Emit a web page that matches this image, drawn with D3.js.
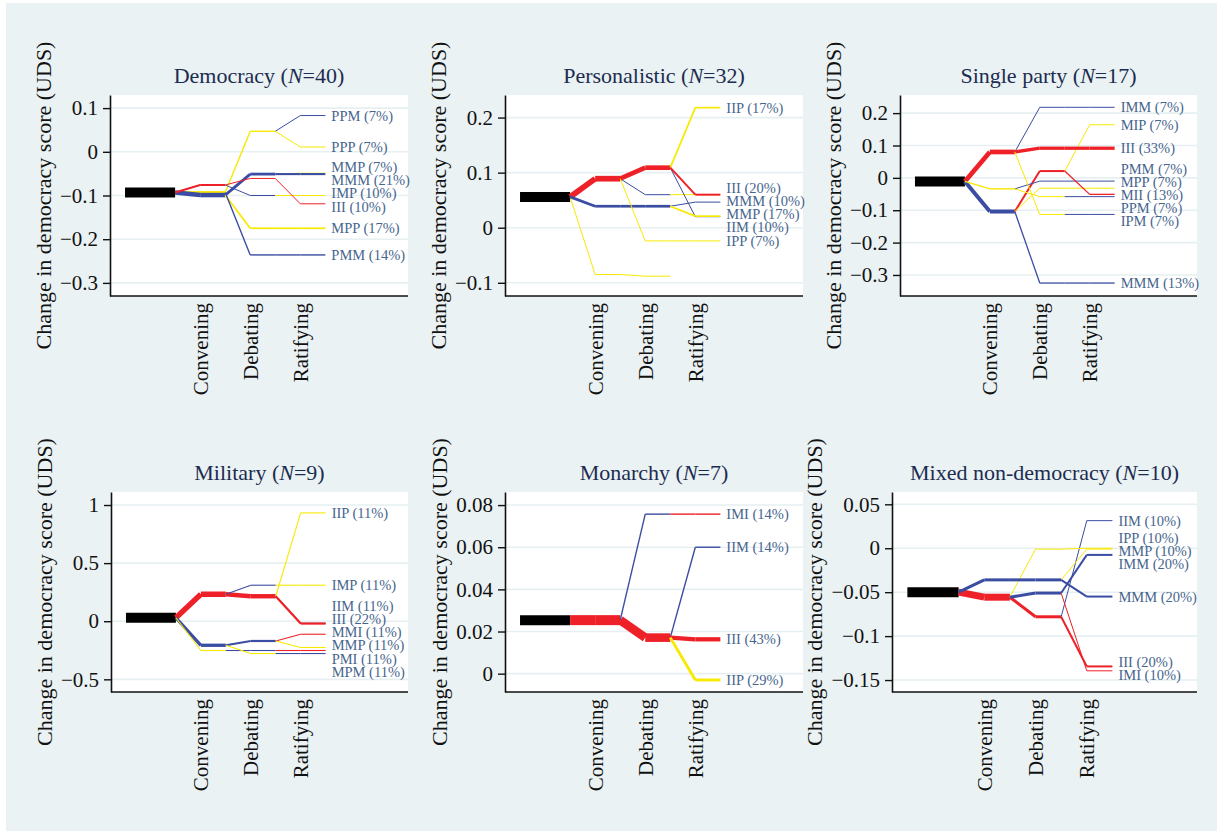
<!DOCTYPE html>
<html><head><meta charset="utf-8">
<script src="https://cdn.jsdelivr.net/npm/d3@7"></script>
<style>
body{margin:0;background:#fff;}
svg{display:block;}
text{font-family:"Liberation Serif","Times New Roman",serif;}
</style>
</head><body>
<svg id="c" width="1223" height="831"></svg>
<script>
// ---------- data ----------
const stageLabels = ["Convening", "Debating", "Ratifying"];
const titles = ["Democracy", "Personalistic", "Single party", "Military", "Monarchy", "Mixed non-democracy"];
const sampleSizes = [40, 32, 17, 9, 7, 10];
const yTickValues = [
  [0.1, 0, -0.1, -0.2, -0.3],
  [0.2, 0.1, 0, -0.1],
  [0.2, 0.1, 0, -0.1, -0.2, -0.3],
  [1, 0.5, 0, -0.5],
  [0.08, 0.06, 0.04, 0.02, 0],
  [0.05, 0, -0.05, -0.1, -0.15]
];
const yDomains = [[-0.33, 0.13], [-0.124, 0.241], [-0.365, 0.256], [-0.609, 1.112], [-0.0087, 0.0862], [-0.1636, 0.064]];
const startValues = [-0.093, 0.056, -0.011, 0.030, 0.0254, -0.050];

// node values (mean change) for Convening (1 letter) and Debating (2 letters) prefixes
const democracyStages = {I: -0.076, M: -0.099, P: -0.093, PP: 0.047, MM: -0.051, IM: -0.100, II: -0.061, MP: -0.175, PM: -0.236};
const personalisticStages = {I: 0.089, M: 0.039, P: -0.085, II: 0.109, IM: 0.060, IP: -0.024, MM: 0.039, PP: -0.088};
const singlePartyStages = {I: 0.080, M: -0.104, P: -0.034, II: 0.0916, IM: 0.218, IP: -0.113, PM: -0.010, PP: -0.058, MP: -0.032, MI: 0.021, MM: -0.325};
const militaryStages = {I: 0.232, M: -0.207, P: -0.252, II: 0.215, IM: 0.310, MM: -0.170, PM: -0.252, MP: -0.278};
const monarchyStages = {I: 0.0254, II: 0.0171, IM: 0.0757};
const mixedStages = {M: -0.036, I: -0.0557, MM: -0.036, IM: -0.051, II: -0.078, IP: -0.001};

// labelled sequences: [sequence, percent, ratifying value]
const democracyPaths = [["PPM", 7, 0.083], ["PPP", 7, 0.011], ["MMP", 7, -0.049], ["MMM", 21, -0.051], ["IMP", 10, -0.100], ["III", 10, -0.119], ["MPP", 17, -0.175], ["PMM", 14, -0.236]];
const personalisticPaths = [["IIP", 17, 0.218], ["IIM", 10, 0.020], ["III", 20, 0.060], ["MMM", 10, 0.0465], ["MMP", 17, 0.021], ["IPP", 7, -0.024]];
const singlePartyPaths = [["IMM", 7, 0.218], ["MIP", 7, 0.164], ["III", 33, 0.0916], ["PMM", 7, -0.010], ["MPP", 7, -0.032], ["MII", 13, -0.051], ["PPM", 7, -0.058], ["IPM", 7, -0.113], ["MMM", 13, -0.325]];
const militaryPaths = [["IIP", 11, 0.932], ["IMP", 11, 0.310], ["IIM", 11, -0.018], ["III", 22, -0.020], ["MMI", 11, -0.112], ["MMP", 11, -0.226], ["PMI", 11, -0.252], ["MPM", 11, -0.278]];
const monarchyPaths = [["IMI", 14, 0.0757], ["IIM", 14, 0.060], ["III", 43, 0.0163], ["IIP", 29, -0.003]];
const mixedPaths = [["IIM", 10, 0.0314], ["IPP", 10, 0.000], ["MMP", 10, -0.001], ["IMM", 20, -0.0076], ["MMM", 20, -0.055], ["IMI", 10, -0.1395], ["III", 20, -0.1345]];

// unlabelled sequences (small groups)
const personalisticUnlabelled = [["IMP", 3, 0.060], ["PP", 3, null]];

// ---------- layout ----------
const svg = d3.select("#c");
svg.append("rect").attr("x", 6).attr("y", 3).attr("width", 1211).attr("height", 828).attr("fill", "#eaf2f3");

const panels = [
  {stages: democracyStages, paths: democracyPaths, hidden: []},
  {stages: personalisticStages, paths: personalisticPaths, hidden: personalisticUnlabelled},
  {stages: singlePartyStages, paths: singlePartyPaths, hidden: []},
  {stages: militaryStages, paths: militaryPaths, hidden: []},
  {stages: monarchyStages, paths: monarchyPaths, hidden: []},
  {stages: mixedStages, paths: mixedPaths, hidden: []}
];
const rects = [
  {l: 110, r: 408, t: 95, b: 296}, {l: 505, r: 803, t: 95, b: 296}, {l: 900, r: 1197, t: 95, b: 296},
  {l: 111, r: 408, t: 492, b: 692}, {l: 505, r: 803, t: 492, b: 692}, {l: 892, r: 1197, t: 492, b: 692}
];
const colorOf = {M: "#3b4da2", I: "#ee2128", P: "#f8e900"};
const fmt = v => v === 0 ? "0" : String(v).replace("-", "\u2212");

function relax(items, gap) {
  items.sort((a, b) => a.ty - b.ty);
  items.forEach(d => d.ly = d.ty);
  for (let it = 0; it < 400; it++) {
    let moved = false;
    for (let j = 0; j < items.length - 1; j++) {
      const a = items[j], b = items[j + 1];
      const d = b.ly - a.ly;
      if (d < gap - 0.01) { const s = (gap - d) / 2; a.ly -= s; b.ly += s; moved = true; }
    }
    if (!moved) break;
  }
}

panels.forEach((p, i) => {
  const R = rects[i];
  const g = svg.append("g");
  g.append("rect").attr("x", R.l).attr("y", R.t).attr("width", R.r - R.l).attr("height", R.b - R.t).attr("fill", "#fff");
  const x = d3.scaleLinear().domain([-0.6, 11.3]).range([R.l, R.r]);
  const y = d3.scaleLinear().domain(yDomains[i]).range([R.b, R.t]);

  // gridlines
  g.selectAll("line.grid").data(yTickValues[i]).join("line").attr("class", "grid")
    .attr("x1", R.l).attr("x2", R.r).attr("y1", d => y(d)).attr("y2", d => y(d))
    .attr("stroke", "#e6eff1").attr("stroke-width", 1.6);

  const all = p.hidden.map(d => ({seq: d[0], pct: d[1], v3: d[2], label: false}))
    .concat(p.paths.map(d => ({seq: d[0], pct: d[1], v3: d[2], label: true})));
  const share = {};
  all.forEach(a => { for (let k = 1; k <= a.seq.length; k++) { const key = a.seq.slice(0, k); share[key] = (share[key] || 0) + a.pct; } });
  const vals = Object.assign({"": startValues[i]}, p.stages);
  all.forEach(a => { if (a.seq.length === 3 && a.v3 != null) vals[a.seq] = a.v3; });

  // start bar
  g.append("line").attr("x1", x(0)).attr("x2", x(2)).attr("y1", y(startValues[i])).attr("y2", y(startValues[i]))
    .attr("stroke", "#000").attr("stroke-width", 10);

  const lines = g.append("g").attr("fill", "none").attr("stroke-linecap", "butt");
  for (let k = 1; k <= 3; k++) {
    const seen = new Set();
    const segs = [];
    all.forEach(a => {
      if (a.seq.length < k) return;
      const key = a.seq.slice(0, k);
      if (seen.has(key)) return;
      seen.add(key);
      segs.push(key);
    });
    segs.forEach(key => {
      const parent = key.slice(0, -1);
      const col = colorOf[key[k - 1]];
      const w = Math.max(1, share[key] / 10);
      const y0 = y(vals[parent]), y1 = y(vals[key]);
      lines.append("line").attr("x1", x(2 * k)).attr("x2", x(2 * k + 1)).attr("y1", y0).attr("y2", y1)
        .attr("stroke", col).attr("stroke-width", w);
      lines.append("line").attr("x1", x(2 * k + 1)).attr("x2", x(2 * k + 2)).attr("y1", y1).attr("y2", y1)
        .attr("stroke", col).attr("stroke-width", w);
    });
  }

  // labels
  const labs = all.filter(a => a.label).map(a => ({text: `${a.seq} (${a.pct}%)`, ty: y(a.v3)}));
  relax(labs, 13.2);
  g.selectAll("text.lab").data(labs).join("text").attr("class", "lab")
    .attr("x", x(8) + 6).attr("y", d => d.ly).attr("dy", "0.35em")
    .attr("font-size", 14.5).attr("fill", "#46658d").text(d => d.text);

  // y axis
  const ya = d3.axisLeft(y).tickValues(yTickValues[i]).tickSize(7).tickSizeOuter(0).tickPadding(5).tickFormat(fmt);
  const yg = g.append("g").attr("transform", `translate(${R.l},0)`).call(ya);
  yg.selectAll("text").attr("font-size", 21).attr("fill", "#111");
  yg.selectAll("line").attr("stroke", "#111").attr("stroke-width", 1.4);
  yg.select(".domain").attr("stroke", "#111").attr("stroke-width", 1.6);
  yg.attr("font-size", null).attr("font-family", null);

  // x axis
  g.append("line").attr("x1", R.l).attr("x2", R.r).attr("y1", R.b).attr("y2", R.b).attr("stroke", "#111").attr("stroke-width", 1.6);
  g.selectAll("text.xl").data(stageLabels).join("text").attr("class", "xl")
    .attr("transform", (d, j) => `translate(${x(3 + 2 * j)},${R.b + 7}) rotate(-90)`)
    .attr("text-anchor", "end").attr("dy", "0.35em").attr("font-size", 21).attr("fill", "#111").text(d => d);

  // title
  const t = g.append("text").attr("x", (R.l + R.r) / 2).attr("y", R.t - 12).attr("text-anchor", "middle")
    .attr("font-size", 22).attr("fill", "#1c2c50");
  t.append("tspan").text(titles[i] + " (");
  t.append("tspan").attr("font-style", "italic").text("N");
  t.append("tspan").text("=" + sampleSizes[i] + ")");

  // y title
  const bb = yg.node().getBBox();
  const xt = R.l + bb.x - 9;
  g.append("text").attr("transform", `translate(${xt},${(R.t + R.b) / 2}) rotate(-90)`)
    .attr("text-anchor", "middle").attr("font-size", 22).attr("fill", "#111")
    .text("Change in democracy score (UDS)");
});
</script>
</body></html>
